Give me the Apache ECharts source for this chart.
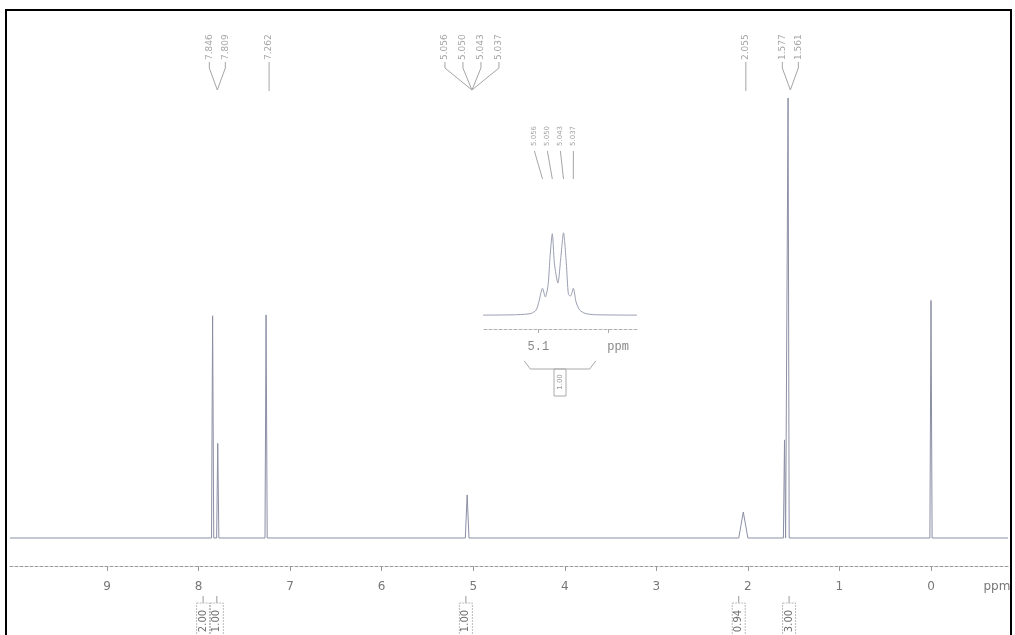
<!DOCTYPE html>
<html><head><meta charset="utf-8">
<script src="https://cdn.jsdelivr.net/npm/echarts@6/dist/echarts.min.js"></script>
<style>html,body{margin:0;padding:0;background:#fff}#c{width:1015px;height:635px}</style>
</head><body><div id="c"></div>
<script>
// ---- data ----
const tickValues = [0, 1, 2, 3, 4, 5, 6, 7, 8, 9];
const peakPpm       = [7.846, 7.790, 7.262, 5.066, 2.050, 1.600, 1.561, 0.000];
const peakHeight    = [50.5, 21.5, 50.7, 9.8, 5.9, 22.3, 100, 54];
const peakHalfWidth = [0.012, 0.012, 0.012, 0.02, 0.05, 0.012, 0.012, 0.012];

const labelTexts    = ['7.846', '7.809', '7.262', '5.056', '5.050', '5.043', '5.037', '2.055', '1.577', '1.561'];
const labelGroupIdx = [0, 0, 1, 2, 2, 2, 2, 3, 4, 4];

const integralCenterPpm = [7.95, 7.80, 5.08, 2.10, 1.55];
const integralTexts     = ['2.00', '1.00', '1.00', '0.94', '3.00'];

const insetPpm = [5.179, 5.130, 5.110, 5.103, 5.099, 5.094, 5.090, 5.086, 5.083, 5.080, 5.077, 5.072, 5.068, 5.064, 5.060, 5.057, 5.054, 5.050, 5.046, 5.041, 5.033, 5.020, 4.959];
const insetVal = [0, 0.05, 0.2, 0.6, 1.6, 3.1, 2.1, 3.5, 7.0, 9.4, 6.0, 3.7, 6.5, 9.5, 6.0, 2.4, 2.2, 3.1, 1.5, 0.6, 0.2, 0.05, 0];
const insetPeakPpm = [5.094, 5.080, 5.064, 5.050];
const insetLabelTexts = ['5.056', '5.050', '5.043', '5.037'];
const insetIntegralRange = [5.120, 5.018];
const insetIntegralText = '1.00';

// ---- build ----
const X_MIN = -0.841, X_MAX = 10.059;
const mainData = [[X_MAX, 0]];
peakPpm.forEach((p, i) => {
  mainData.push([p + peakHalfWidth[i], 0], [p, peakHeight[i]], [p - peakHalfWidth[i], 0]);
});
mainData.push([X_MIN, 0]);
const insetData = insetPpm.map((p, i) => [p, insetVal[i]]);

const chart = echarts.init(document.getElementById('c'), null, {renderer: 'canvas'});
const lineColor = '#8b8fa5';
chart.setOption({
  animation: false,
  backgroundColor: '#fff',
  grid: [
    {left: 10, right: 7, top: 10, bottom: 69},
    {left: 483, width: 154, top: 225, height: 104}
  ],
  xAxis: [
    {
      type: 'value', gridIndex: 0, inverse: true, min: X_MIN, max: X_MAX,
      splitLine: {show: false},
      axisLine: {onZero: false, lineStyle: {color: '#9a9a9a', type: [3, 2], width: 1}},
      axisTick: {customValues: tickValues, length: 5, lineStyle: {color: '#999'}},
      axisLabel: {
        customValues: tickValues.concat([-0.72]),
        formatter: v => (v < 0 ? 'ppm' : String(Math.round(v))),
        color: '#777', fontSize: 12, margin: 15, fontFamily: 'DejaVu Sans'
      }
    },
    {
      type: 'value', gridIndex: 1, inverse: true, min: 4.959, max: 5.179,
      splitLine: {show: false},
      axisLine: {onZero: false, lineStyle: {color: '#b0b0b0', type: [3, 2], width: 1}},
      axisTick: {customValues: [5.1, 5.0], length: 4, lineStyle: {color: '#aaa'}},
      axisLabel: {
        customValues: [5.1, 4.986],
        formatter: v => (v > 5.05 ? '5.1' : 'ppm'),
        color: '#888', fontSize: 12, margin: 12, fontFamily: 'Liberation Mono'
      }
    }
  ],
  yAxis: [
    {type: 'value', gridIndex: 0, min: -6.36, max: 120, show: false},
    {type: 'value', gridIndex: 1, min: -1.6, max: 10.4, show: false}
  ],
  series: [
    {type: 'line', xAxisIndex: 0, yAxisIndex: 0, data: mainData, showSymbol: false,
     lineStyle: {color: lineColor, width: 1}, silent: true},
    {type: 'line', xAxisIndex: 1, yAxisIndex: 1, data: insetData, showSymbol: false, smooth: 0.25,
     lineStyle: {color: '#9a9eb0', width: 1}, silent: true}
  ]
});

// ---- annotations positioned through the axes ----
const g = [];
const toX = (grid, ppm) => chart.convertToPixel({gridIndex: grid}, [ppm, 0])[0];
const labelColor = '#a5a5a5';

// peak labels with leader lines
const groups = {};
labelTexts.forEach((t, i) => { (groups[labelGroupIdx[i]] = groups[labelGroupIdx[i]] || []).push(t); });
Object.keys(groups).forEach(k => {
  const texts = groups[k];
  const xs = texts.map(t => toX(0, parseFloat(t)));
  const cx = xs.reduce((a, b) => a + b, 0) / xs.length + 3;
  const n = texts.length;
  const sp = n > 2 ? 18 : 16;
  texts.forEach((t, j) => {
    const lx = cx + (j - (n - 1) / 2) * sp;
    g.push({type: 'text', x: lx, y: 60, rotation: Math.PI / 2,
      style: {text: t, fill: labelColor, font: '9px "DejaVu Sans"', align: 'left', verticalAlign: 'middle'}});
    const pts = n === 1 ? [[lx, 62], [lx, 91]] : [[lx, 62], [lx, 68], [cx, 90]];
    g.push({type: 'polyline', shape: {points: pts}, style: {stroke: labelColor, lineWidth: 1, fill: null}});
  });
});

// integral boxes under the axis
integralCenterPpm.forEach((p, i) => {
  const x = toX(0, p);
  g.push({type: 'line', shape: {x1: x, y1: 596, x2: x, y2: 603}, style: {stroke: '#999', lineWidth: 1}});
  g.push({type: 'rect', shape: {x: x - 6.5, y: 603, width: 13, height: 40},
    style: {fill: null, stroke: '#bbb', lineWidth: 1, lineDash: [2, 1]}});
  g.push({type: 'text', x: x, y: 621, rotation: Math.PI / 2,
    style: {text: integralTexts[i], fill: '#6f6f6f', font: '10px "DejaVu Sans"', align: 'center', verticalAlign: 'middle'}});
});

// inset labels
const insetPx = insetPeakPpm.map(p => toX(1, p));
const icx = insetPx.reduce((a, b) => a + b, 0) / insetPx.length - 4;
insetLabelTexts.forEach((t, j) => {
  const lx = icx + (j - 1.5) * 13;
  g.push({type: 'text', x: lx, y: 146, rotation: Math.PI / 2,
    style: {text: t, fill: labelColor, font: '7px "DejaVu Sans"', align: 'left', verticalAlign: 'middle'}});
  g.push({type: 'polyline', shape: {points: [[lx, 151], [insetPx[j], 179]]},
    style: {stroke: labelColor, lineWidth: 1, fill: null}});
});

// inset integral bracket
const ia = toX(1, insetIntegralRange[0]), ib = toX(1, insetIntegralRange[1]);
const imid = (ia + ib) / 2;
g.push({type: 'polyline', shape: {points: [[ia, 361], [ia + 6, 369], [ib - 6, 369], [ib, 361]]},
  style: {stroke: '#aaa', lineWidth: 1, fill: null}});
g.push({type: 'rect', shape: {x: imid - 6, y: 369, width: 12, height: 27},
  style: {fill: null, stroke: '#aaa', lineWidth: 1}});
g.push({type: 'text', x: imid, y: 382, rotation: Math.PI / 2,
  style: {text: insetIntegralText, fill: '#999', font: '7px "DejaVu Sans"', align: 'center', verticalAlign: 'middle'}});

// outer frame
g.push({type: 'rect', shape: {x: 6, y: 10, width: 1005, height: 640},
  style: {fill: null, stroke: '#000', lineWidth: 2}, z: 100});

chart.setOption({graphic: g});
</script>
</body></html>
